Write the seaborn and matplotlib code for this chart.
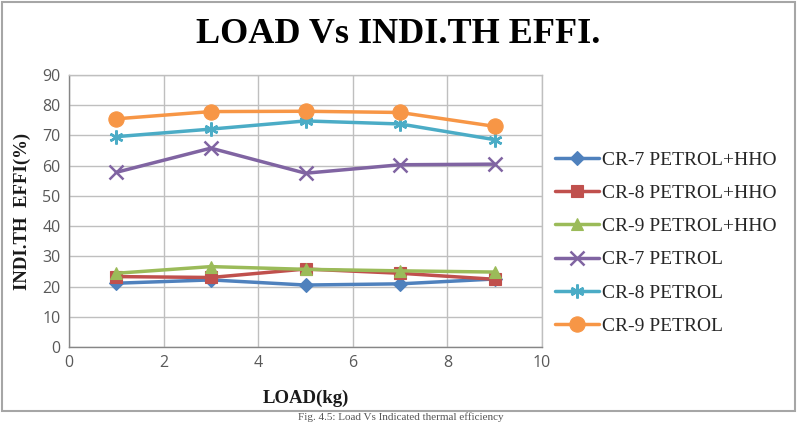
import matplotlib
matplotlib.use("Agg")
import matplotlib.pyplot as plt
from matplotlib.patches import Rectangle
import seaborn as sns
import pandas as pd

load = [1, 3, 5, 7, 9]
cr7_hho = [21.1, 22.2, 20.5, 20.9, 22.5]
cr8_hho = [23.3, 23.0, 25.8, 24.4, 22.4]
cr9_hho = [24.4, 26.6, 25.7, 25.2, 24.8]
cr7_pet = [57.8, 65.8, 57.5, 60.3, 60.5]
cr8_pet = [69.6, 72.1, 74.8, 73.8, 68.6]
cr9_pet = [75.5, 77.9, 78.0, 77.6, 73.0]

series_names = ["CR-7 PETROL+HHO", "CR-8 PETROL+HHO", "CR-9 PETROL+HHO",
                "CR-7 PETROL", "CR-8 PETROL", "CR-9 PETROL"]
series_vals = [cr7_hho, cr8_hho, cr9_hho, cr7_pet, cr8_pet, cr9_pet]
colors = ["#4F81BD", "#C0504D", "#9BBB59", "#8064A2", "#4BACC6", "#F79646"]
markers = ["D", "s", "^", "x", (6, 2, 0), "o"]
msizes = [7, 8, 9, 10, 10, 11]

rows = []
for name, vals in zip(series_names, series_vals):
    for x, y in zip(load, vals):
        rows.append({"LOAD": x, "EFF": y, "series": name})
df = pd.DataFrame(rows)

sns.set_theme(style="white")
plt.rcParams["font.family"] = ["DejaVu Sans"]

fig = plt.figure(figsize=(8.02, 4.24), dpi=100)
ax = fig.add_axes([69/802, 1-347/424, (542-69)/802, (347-75)/424])

for name, vals, c, m, ms in zip(series_names, series_vals, colors, markers, msizes):
    sub = df[df["series"] == name]
    sns.lineplot(data=sub, x="LOAD", y="EFF", ax=ax, color=c, marker=m,
                 markersize=ms, linewidth=2.5, label=name,
                 markeredgecolor=c, markeredgewidth=1.8 if m in ("x", (6, 2, 0)) else 0.8,
                 errorbar=None)

ax.set_xlim(0, 10)
ax.set_ylim(0, 90)
ax.set_xticks(range(0, 11, 2))
ax.set_yticks(range(0, 91, 10))
ax.grid(True, color="#BFBFBF", linewidth=1)
for s in ax.spines.values():
    s.set_color("#BFBFBF")
    s.set_linewidth(1)
ax.spines["left"].set_color("#868686")
ax.spines["bottom"].set_color("#868686")
ax.tick_params(axis="both", labelsize=11.5, colors="#595959", length=0, pad=6)
for lab in ax.get_xticklabels() + ax.get_yticklabels():
    lab.set_fontfamily("Open Sans")

ax.set_xlabel("LOAD(kg)", fontsize=13.5, fontweight="bold", family="Liberation Serif",
              color="#1a1a1a", labelpad=13)
ax.set_ylabel("INDI.TH  EFFI(%)", fontsize=13.5, fontweight="bold", family="Liberation Serif",
              color="#1a1a1a", labelpad=8)

leg = ax.legend(loc="upper left", bbox_to_anchor=(1.01, 0.748), frameon=False,
                prop={"family": "Liberation Serif", "size": 14},
                handlelength=2.3, labelspacing=0.8, handletextpad=0.15, borderaxespad=0)
for t in leg.get_texts():
    t.set_color("#262626")

fig.text(0.496, 1-43/424, "LOAD Vs INDI.TH EFFI.", ha="center", va="baseline",
         fontsize=26, fontweight="bold", family="Liberation Serif", color="#000000")
fig.text(0.5, 1-422/424, "Fig. 4.5: Load Vs Indicated thermal efficiency", ha="center",
         va="bottom", fontsize=8, family="Liberation Serif", color="#555555")

fig.patches.append(Rectangle((2/802, 1-411/424), 793/802, 409/424, transform=fig.transFigure,
                             fill=False, edgecolor="#A6A6A6", linewidth=1.5))

fig.savefig("out.png", dpi=100)
